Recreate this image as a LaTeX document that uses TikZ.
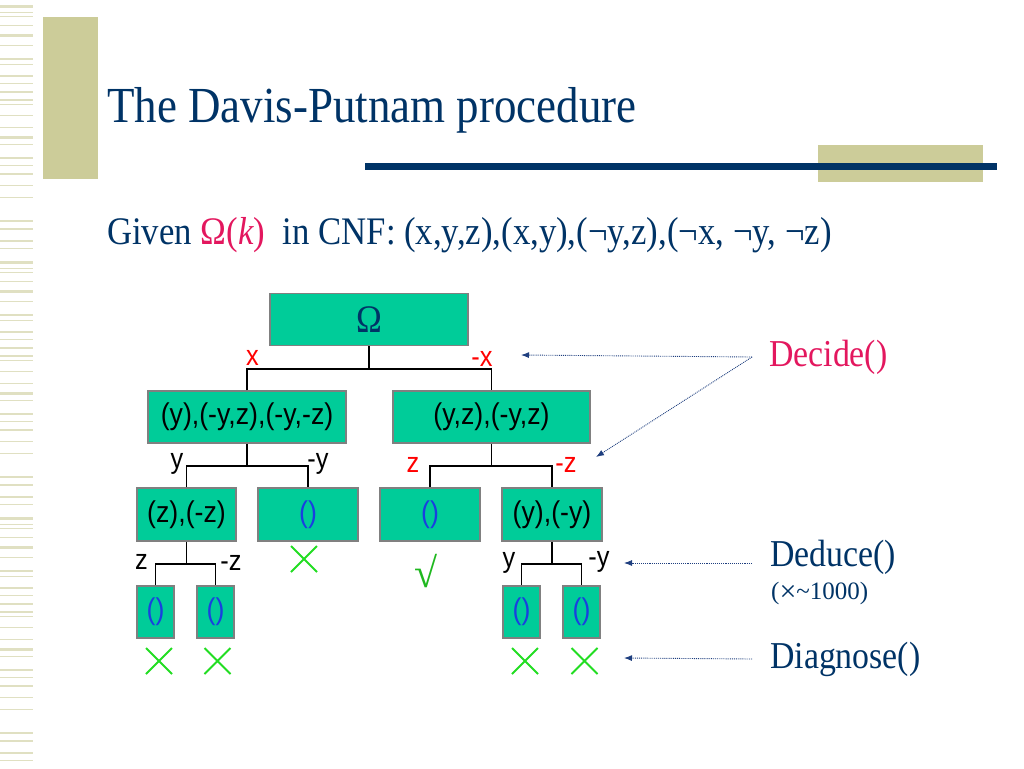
\documentclass[tikz,border=0pt]{standalone}
\usepackage{fontspec}
\setmainfont[FakeStretch=0.89]{Liberation Serif}
\setsansfont[FakeStretch=0.89]{Liberation Sans}
\newfontfamily\plainserif{Liberation Serif}
\usetikzlibrary{calc}
\usetikzlibrary{arrows.meta}
\usetikzlibrary{shapes.misc}

\definecolor{slideBlue}{HTML}{003366}
\definecolor{slideBeige}{HTML}{CCCC99}
\definecolor{boxTeal}{HTML}{00CC99}
\definecolor{boxEdge}{HTML}{808080}
\definecolor{callRed}{HTML}{E3175E}
\definecolor{litRed}{HTML}{FF0000}
\definecolor{failGreen}{HTML}{22DD22}
\definecolor{tickGreen}{HTML}{1FB81F}
\definecolor{emptyBlue}{HTML}{1A3FE0}
\definecolor{pointerBlue}{HTML}{1F3F7F}

\begin{document}
\begin{tikzpicture}[x=1pt, y=-1pt,
	clause/.style={draw=boxEdge, line width=1.5pt, fill=boxTeal, inner sep=0pt, font=\sffamily\fontsize{30}{30}\selectfont},
	lit/.style={inner sep=0pt, font=\sffamily\fontsize{28.5}{28.5}\selectfont},
	fail/.style={cross out, draw=failGreen, line width=2pt, minimum width=24pt, minimum height=24pt, inner sep=0pt},
	pointer/.style={pointerBlue, densely dotted, line width=0.9pt, -{Latex[length=8pt,width=6pt]}},
	call/.style={anchor=west, inner sep=0pt, font=\fontsize{38}{38}\selectfont}]

	\useasboundingbox (0,0) rectangle (1024,768);

	% slide decoration
	\foreach \base in {0,256,512}
		\foreach \y/\h in {5/3,12/1,16/1,25/1,34/3,45/1,58/2,64/1,75/2,83/1,91/2,99/2,104/1,115/1,127/1,136/3,144/1,157/2,165/1,173/2,185/1,197/1,220/2,228/2,240/2,248/1}
			\fill [slideBeige!60] (0,\base+\y) rectangle (33,\base+\y+\h);
	\fill [slideBeige] (43,17) rectangle (98,179);
	\fill [slideBeige] (818,145) rectangle (983,182);
	\fill [slideBlue] (365,163) rectangle (997,170);

	% title and formula
	\node [anchor=base west, inner sep=0pt, text=slideBlue, font=\fontsize{50.5}{50.5}\selectfont] (title) at (107,122) {The Davis-Putnam procedure};
	\node [anchor=base west, inner sep=0pt, text=slideBlue, font=\fontsize{39}{39}\selectfont] (given) at (107,244) {Given \textcolor{callRed}{Ω(\textit{k})}\ \ in CNF: (x,y,z),(x,y),(¬y,z),(¬x, ¬y, ¬z)};

	% tree boxes
	\node [clause, minimum width=198pt, minimum height=52pt, text=slideBlue, font=\fontsize{39}{39}\selectfont] (root) at (369,319.5) {Ω};
	\node [clause, minimum width=198pt, minimum height=52pt] (left) at (247,417) {(y),(-y,z),(-y,-z)};
	\node [clause, minimum width=197pt, minimum height=52pt] (right) at (491.5,417) {(y,z),(-y,z)};
	\node [clause, minimum width=99pt, minimum height=53pt] (leftY) at (186.5,514.5) {(z),(-z)};
	\node [clause, minimum width=100pt, minimum height=53pt, text=emptyBlue] (leftNotY) at (308,514.5) {()};
	\node [clause, minimum width=100pt, minimum height=53pt, text=emptyBlue] (rightZ) at (430,514.5) {()};
	\node [clause, minimum width=100pt, minimum height=53pt] (rightNotZ) at (552,514.5) {(y),(-y)};
	\node [clause, minimum width=37pt, minimum height=52pt, text=emptyBlue] (leftZ) at (155.5,612) {()};
	\node [clause, minimum width=37pt, minimum height=52pt, text=emptyBlue] (leftNotZ) at (215.5,612) {()};
	\node [clause, minimum width=37pt, minimum height=52pt, text=emptyBlue] (rightY) at (521.5,612) {()};
	\node [clause, minimum width=37pt, minimum height=52pt, text=emptyBlue] (rightNotY) at (581.5,612) {()};

	% branches
	\coordinate (rootBar) at ($(root.south)+(0,22.5)$);
	\coordinate (leftBar) at ($(left.south)+(0,22)$);
	\coordinate (rightBar) at ($(right.south)+(0,22)$);
	\coordinate (leftYBar) at ($(leftY.south)+(0,22)$);
	\coordinate (rightNotZBar) at ($(rightNotZ.south)+(0,22)$);
	\draw [line width=1.6pt] (root.south) -- (rootBar);
	\draw [line width=1.6pt] (left.north) |- (rootBar) -| (right.north);
	\draw [line width=1.6pt] (left.south) -- (leftBar);
	\draw [line width=1.6pt] (leftY.north) |- (leftBar) -| (leftNotY.north);
	\draw [line width=1.6pt] (right.south) -- (rightBar);
	\draw [line width=1.6pt] (rightZ.north) |- (rightBar) -| (rightNotZ.north);
	\draw [line width=1.6pt] (leftY.south) -- (leftYBar);
	\draw [line width=1.6pt] (leftZ.north) |- (leftYBar) -| (leftNotZ.north);
	\draw [line width=1.6pt] (rightNotZ.south) -- (rightNotZBar);
	\draw [line width=1.6pt] (rightY.north) |- (rightNotZBar) -| (rightNotY.north);

	% branch literals
	\node [lit, text=litRed] (litX) at (252.5,358) {x};
	\node [lit, text=litRed] (litNotX) at (482,359) {-x};
	\node [lit] (litY) at (177,464) {y};
	\node [lit] (litNotY) at (318,464) {-y};
	\node [lit, text=litRed] (litZ) at (413,465) {z};
	\node [lit, text=litRed] (litNotZ) at (566,465) {-z};
	\node [lit] (litZZ) at (141.5,561.5) {z};
	\node [lit] (litNotZZ) at (231,563) {-z};
	\node [lit] (litYY) at (509,563) {y};
	\node [lit] (litNotYY) at (599,562) {-y};

	% outcomes
	\node [fail] (failA) at (304,559) {};
	\node [fail] (failB) at (159,661) {};
	\node [fail] (failC) at (217.5,661) {};
	\node [fail] (failD) at (525,661) {};
	\node [fail] (failE) at (584.5,661) {};
	\node [inner sep=0pt, text=tickGreen, font=\plainserif\fontsize{42}{42}\selectfont] (sat) at (426,571) {√};

	% procedure calls
	\node [call, text=callRed] (decide) at (769,357) {Decide()};
	\node [call, text=slideBlue] (deduce) at (770,557) {Deduce()};
	\node [call, text=slideBlue, font=\plainserif\fontsize{25}{25}\selectfont] (count) at (771,593) {(\raisebox{-2.5pt}{\fontsize{30}{30}\selectfont ×}\textasciitilde 1000)};
	\node [call, text=slideBlue] (diagnose) at (770,659) {Diagnose()};
	\coordinate (decideTip) at (521,355);
	\coordinate (decideTipB) at (596,457);
	\coordinate (deduceTip) at (624,563);
	\coordinate (diagnoseTip) at (624,658);
	\draw [pointer] ([xshift=-17pt]decide.west) -- (decideTip);
	\draw [pointer] ([xshift=-17pt]decide.west) -- (decideTipB);
	\draw [pointer] ([xshift=-18pt,yshift=-6pt]deduce.west) -- (deduceTip);
	\draw [pointer] ([xshift=-18pt]diagnose.west) -- (diagnoseTip);

\end{tikzpicture}
\end{document}
